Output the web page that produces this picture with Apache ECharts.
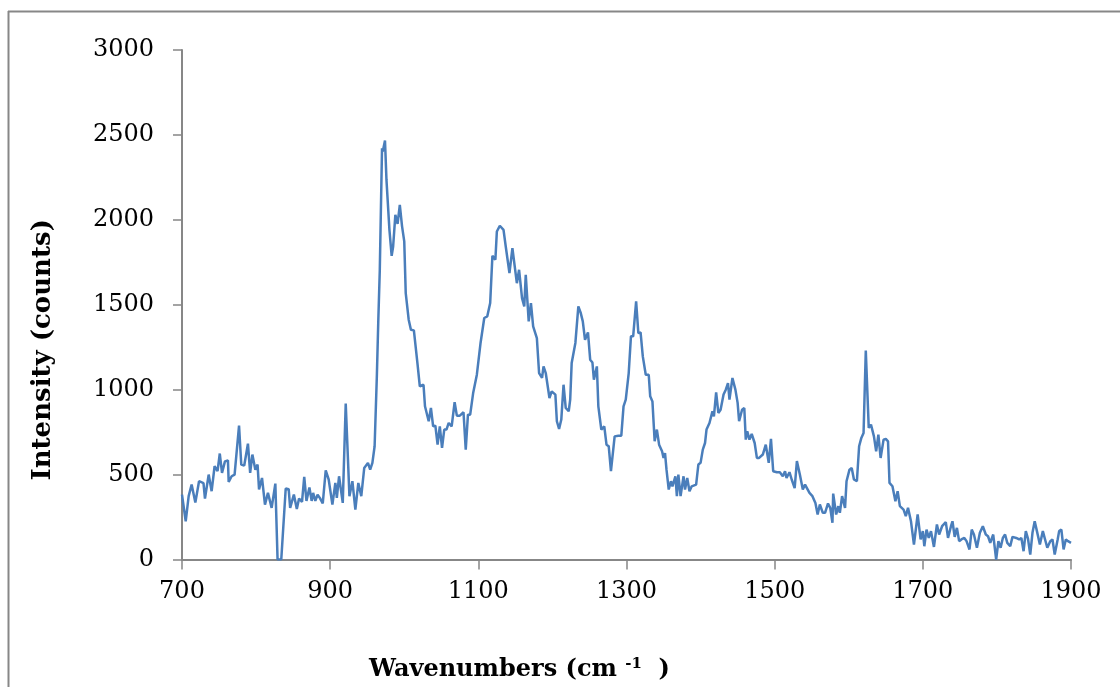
<!DOCTYPE html>
<html>
<head>
<meta charset="utf-8">
<script src="https://cdn.jsdelivr.net/npm/echarts@6/dist/echarts.min.js"></script>
<style>
html,body{margin:0;padding:0;background:#fff;}
#chart{width:1120px;height:687px;}
</style>
</head>
<body>
<div id="chart"></div>
<script>
// Raman spectrum: wavenumber (cm-1) and intensity (counts)
const wavenumbers = [
700,705,709,713,718,723,729,731,736,740,744,748,751,754,758,762,763,767,771,777,
780,784,789,792,795,799,802,804,808,812,816,818,821,826,829,834,840,844,846,851,
855,858,862,865,868,872,875,877,880,883,886,890,894,898,903,907,909,912,917,921,
926,930,934,938,942,946,951,954,957,960,963,965,967,970,971,974,976,980,983,985,
988,991,994,997,1000,1002,1006,1009,1013,1018,1021,1026,1028,1033,1036,1039,1042,1045,1048,1051,
1054,1057,1060,1064,1068,1071,1075,1080,1083,1086,1089,1093,1098,1103,1108,1112,1116,1119,1123,1125,
1129,1134,1137,1142,1146,1148,1152,1155,1159,1162,1164,1168,1171,1174,1179,1182,1186,1188,1191,1196,
1199,1204,1206,1209,1212,1215,1218,1222,1224,1226,1231,1235,1238,1241,1244,1248,1251,1254,1256,1260,
1262,1266,1270,1273,1276,1279,1284,1289,1293,1296,1299,1303,1306,1309,1313,1316,1319,1322,1326,1330,
1332,1335,1338,1341,1344,1348,1350,1352,1354,1357,1360,1362,1366,1368,1370,1373,1377,1379,1382,1385,
1388,1390,1394,1397,1400,1403,1406,1408,1412,1416,1418,1421,1424,1427,1431,1434,1437,1439,1443,1447,
1450,1452,1456,1459,1461,1463,1466,1469,1473,1476,1479,1484,1488,1492,1495,1498,1503,1507,1511,1514,
1516,1520,1523,1527,1530,1534,1538,1541,1543,1547,1551,1555,1558,1561,1565,1568,1572,1575,1578,1579,
1583,1586,1588,1591,1595,1597,1601,1604,1607,1611,1614,1617,1620,1623,1625,1627,1630,1632,1634,1637,
1640,1643,1647,1650,1653,1655,1659,1663,1666,1669,1674,1677,1680,1684,1688,1693,1697,1700,1702,1705,
1708,1711,1715,1719,1722,1726,1731,1734,1738,1740,1743,1746,1749,1752,1756,1759,1763,1766,1769,1773,
1777,1781,1785,1788,1791,1795,1799,1802,1805,1808,1811,1814,1818,1821,1826,1830,1833,1836,1839,1842,
1845,1848,1851,1854,1858,1862,1865,1868,1872,1875,1878,1882,1884,1887,1890,1893,1896,1900
];
const intensity = [
382,225,373,441,335,461,450,359,500,402,549,520,624,510,578,584,457,490,500,788,
559,553,682,510,618,529,559,412,480,323,392,402,304,447,0,0,418,414,304,382,
298,359,339,486,345,424,345,392,345,382,363,330,525,471,323,451,363,490,333,918,
373,461,294,451,373,539,569,529,569,667,1078,1412,1706,2422,2402,2467,2235,1941,1788,1843,
2029,1976,2088,1963,1873,1569,1412,1353,1349,1147,1020,1029,902,814,892,784,788,676,784,657,
765,765,804,784,926,847,847,867,647,853,853,980,1088,1275,1422,1431,1510,1788,1765,1931,
1965,1941,1843,1686,1833,1823,1627,1706,1539,1490,1676,1402,1510,1373,1304,1098,1069,1137,1098,951,
990,971,814,769,824,1029,892,873,941,1157,1275,1490,1455,1402,1294,1337,1176,1160,1059,1137,
902,765,784,676,667,520,725,729,729,902,941,1098,1314,1314,1520,1333,1337,1196,1088,1088,
961,931,696,765,676,637,598,627,529,412,461,431,490,373,500,373,490,412,480,402,
431,431,441,559,569,647,686,765,804,873,843,984,863,882,971,1000,1039,941,1069,1000,
922,814,882,892,706,755,706,739,686,598,598,618,676,569,710,520,514,514,490,520,
480,514,471,420,580,500,412,441,451,392,373,333,265,324,275,275,330,304,216,388,
265,314,275,373,304,461,529,539,471,461,667,716,745,1231,1000,775,794,804,725,637,
735,598,706,710,696,451,431,343,402,314,294,255,304,225,88,265,118,167,78,176,
127,167,74,206,147,196,220,127,196,225,133,186,108,118,127,108,59,176,147,69,
157,196,147,137,98,147,0,108,69,127,147,98,78,133,127,118,127,49,167,121,
29,157,225,167,88,167,118,69,108,118,29,118,167,176,59,118,108,98
];
const xTicks = [700, 900, 1100, 1300, 1500, 1700, 1900];
const yTicks = [0, 500, 1000, 1500, 2000, 2500, 3000];
const xTitle = 'Wavenumbers (cm';
const xTitleSup = '-1';
const yTitle = 'Intensity (counts)';

const seriesData = wavenumbers.map((w, i) => [w, intensity[i]]);
const axisGray = '#878787';
const serif = '"DejaVu Serif", "Liberation Serif", serif';
const plain = v => String(v);

const chart = echarts.init(document.getElementById('chart'), null, {renderer: 'canvas'});
chart.setOption({
  animation: false,
  backgroundColor: '#ffffff',
  grid: {left: 182, right: 49, top: 50, bottom: 127, containLabel: false},
  xAxis: {
    type: 'value',
    min: xTicks[0], max: xTicks[xTicks.length - 1], interval: 200,
    axisLine: {show: true, onZero: false, lineStyle: {color: axisGray, width: 2}},
    axisTick: {show: true, inside: false, length: 10, lineStyle: {color: axisGray, width: 1.5}},
    axisLabel: {color: '#000', fontFamily: serif, fontSize: 24, margin: 20, formatter: plain},
    splitLine: {show: false},
    name: '{a|' + xTitle + ' }{b|' + xTitleSup + '}{a|  )}',
    nameLocation: 'middle',
    nameGap: 97,
    nameTextStyle: {
      padding: [0, 214, 0, 0],
      rich: {
        a: {fontFamily: serif, fontSize: 24, fontWeight: 'bold', color: '#000'},
        b: {fontFamily: serif, fontSize: 15, fontWeight: 'bold', color: '#000', padding: [0, 0, 12, 0]}
      }
    }
  },
  yAxis: {
    type: 'value',
    min: yTicks[0], max: yTicks[yTicks.length - 1], interval: 500,
    axisLine: {show: true, lineStyle: {color: axisGray, width: 2}},
    axisTick: {show: true, inside: false, length: 9, lineStyle: {color: axisGray, width: 1.5}},
    axisLabel: {color: '#000', fontFamily: serif, fontSize: 24, margin: 28, formatter: plain},
    splitLine: {show: false},
    name: yTitle,
    nameLocation: 'middle',
    nameGap: 126,
    nameTextStyle: {
      fontFamily: serif, fontSize: 26, fontWeight: 'bold', color: '#000',
      padding: [0, 90, 0, 0]
    }
  },
  series: [{
    type: 'line',
    data: seriesData,
    showSymbol: false,
    symbol: 'none',
    lineStyle: {color: '#4A7EBB', width: 2.5},
    clip: true
  }],
  graphic: [
    {type: 'line', shape: {x1: 8, y1: 11.5, x2: 1120, y2: 11.5}, style: {stroke: axisGray, lineWidth: 2}, silent: true},
    {type: 'line', shape: {x1: 8.5, y1: 11, x2: 8.5, y2: 687}, style: {stroke: axisGray, lineWidth: 2}, silent: true}
  ]
});
</script>
</body>
</html>
